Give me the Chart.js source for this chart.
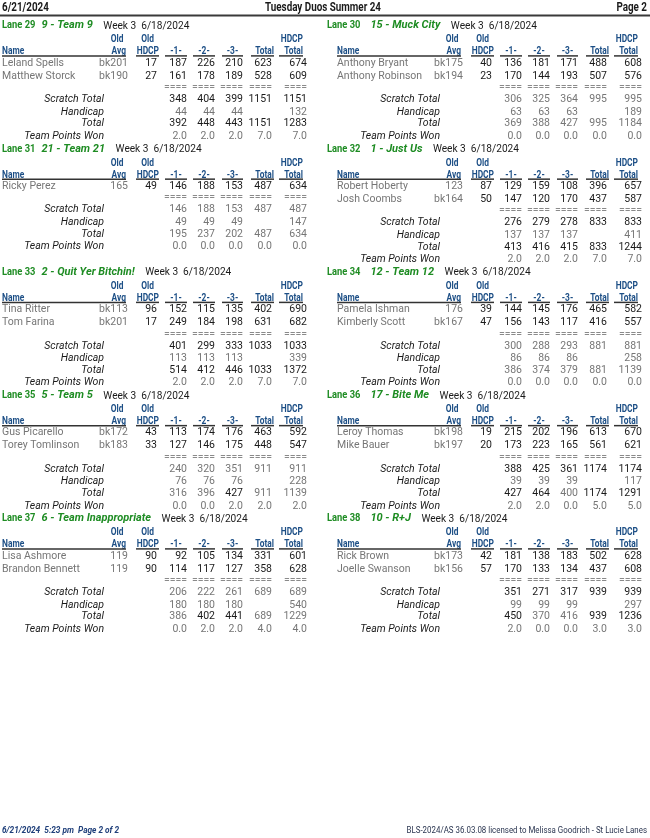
<!DOCTYPE html>
<html><head><meta charset="utf-8">
<script src="https://cdn.jsdelivr.net/npm/chart.js@4.4.1/dist/chart.umd.min.js"></script>
<style>html,body{margin:0;padding:0;background:#fff;}#wrap{width:650px;height:838px;}</style>
</head><body><div id="wrap"><canvas id="c" width="650" height="838"></canvas></div>
<script>
// ---------- data ----------
const reportDate = '6/21/2024';
const reportTitle = 'Tuesday Duos Summer 24';
const pageLabel = 'Page 2';
const weekLabel = 'Week 3';
const bowlDate = '6/18/2024';
const footerLeft = '6/21/2024  5:23 pm  Page 2 of 2';
const footerRight = 'BLS-2024/AS 36.03.08 licensed to Melissa Goodrich - St Lucie Lanes';
const laneNumbers = [29, 30, 31, 32, 33, 34, 35, 36, 37, 38];
const teamNames = ['9 - Team 9', '15 - Muck City', '21 - Team 21', '1 - Just Us', '2 - Quit Yer Bitchin!',
  '12 - Team 12', '5 - Team 5', '17 - Bite Me', '6 - Team Inappropriate', '10 - R+J'];
const playerNames = [['Leland Spells', 'Matthew Storck'], ['Anthony Bryant', 'Anthony Robinson'], ['Ricky Perez'],
  ['Robert Hoberty', 'Josh Coombs'], ['Tina Ritter', 'Tom Farina'], ['Pamela Ishman', 'Kimberly Scott'],
  ['Gus Picarello', 'Torey Tomlinson'], ['Leroy Thomas', 'Mike Bauer'], ['Lisa Ashmore', 'Brandon Bennett'],
  ['Rick Brown', 'Joelle Swanson']];
const playerAvgs = [['bk201', 'bk190'], ['bk175', 'bk194'], ['165'], ['123', 'bk164'], ['bk113', 'bk201'],
  ['176', 'bk167'], ['bk172', 'bk183'], ['bk198', 'bk197'], ['119', '119'], ['bk173', 'bk156']];
const playerHdcps = [[17, 27], [40, 23], [49], [87, 50], [96, 17], [39, 47], [43, 33], [19, 20], [90, 90], [42, 57]];
const game1Scores = [[187, 161], [136, 170], [146], [129, 147], [152, 249], [144, 156], [113, 127], [215, 173], [92, 114], [181, 170]];
const game2Scores = [[226, 178], [181, 144], [188], [159, 120], [115, 184], [145, 143], [174, 146], [202, 223], [105, 117], [138, 133]];
const game3Scores = [[210, 189], [171, 193], [153], [108, 170], [135, 198], [176, 117], [176, 175], [196, 165], [134, 127], [183, 134]];
const teamPointsWon = [[2, 2, 2, 7], [0, 0, 0, 0], [0, 0, 0, 0], [2, 2, 2, 7], [2, 2, 2, 7],
  [0, 0, 0, 0], [0, 0, 2, 2], [2, 2, 0, 5], [0, 2, 2, 4], [2, 0, 0, 3]];
const headerTop = ['Old', 'Old', '', '', '', '', 'HDCP'];
const headerBottom = ['Avg', 'HDCP', '-1-', '-2-', '-3-', 'Total', 'Total'];
const rowLabels = ['Scratch Total', 'Handicap', 'Total', 'Team Points Won'];

// ---------- layout ----------
const LAY = {
  titleX: [2, 327], blockX: [0, 335], labelRight: 104,
  rowTop0: 28.3, rowPitch: 123.25,
  nameX: 2, avgR: 128, hdcpR: 157, valR: [187, 215, 243, 272, 307],
  headCenter: [117, 147.5, 176, 204, 232.5, 263.5, 291.5],
  headRight: [126, 159, null, null, null, 274, 303],
  rules: [[2, 126], [136, 159], [165, 187], [193, 215], [222, 243], [251, 274], [279, 303]],
  laneGap: [6, 10], teamGap: 10.5
};
const COL = { green: '#1e8c23', blue: '#1d4f86', grey: '#767676', dark: '#1a1a1a', sep: '#8a8a8a', navy: '#1f3f7a' };

function sum(a) { return a.reduce((s, v) => s + v, 0); }

const sheetPlugin = {
  id: 'sheet',
  afterDraw(chart) {
    const ctx = chart.ctx, xs = chart.scales.x, ys = chart.scales.y;
    const X = v => xs.getPixelForValue(v), Y = v => ys.getPixelForValue(v);
    function txt(s, x, y, font, color, align, hs, base) {
      hs = hs || 1;
      ctx.save(); ctx.font = font; ctx.fillStyle = color; ctx.textBaseline = base || 'alphabetic'; ctx.textAlign = align || 'left';
      ctx.translate(X(x), Y(y)); ctx.scale(hs, 1); ctx.fillText(s, 0, 0); ctx.restore();
    }
    function width(s, font, hs) { ctx.save(); ctx.font = font; const w = ctx.measureText(s).width * (hs || 1); ctx.restore(); return w; }
    function rule(x1, x2, y, w, c) {
      ctx.save(); ctx.strokeStyle = c; ctx.lineWidth = w; ctx.beginPath();
      ctx.moveTo(X(x1), Y(y)); ctx.lineTo(X(x2), Y(y)); ctx.stroke(); ctx.restore();
    }
    const fData = '10.5px Roboto', fHead = 'bold 10.5px Roboto', fLabel = 'italic 10.5px Roboto';
    const fLane = 'bold 11px Roboto', fTeam = 'italic bold 11px Roboto', fWeek = '11px Roboto';

    // page header
    txt(reportDate, 2, 7.5, 'bold 12px Roboto', COL.dark, 'left', 0.82, 'middle');
    txt(reportTitle, 323, 7.5, 'bold 12px Roboto', COL.dark, 'center', 0.82, 'middle');
    txt(pageLabel, 647, 7.5, 'bold 12px Roboto', COL.dark, 'right', 0.82, 'middle');
    rule(0, 650, 15.5, 2, '#3a3a3a');

    // footer
    txt(footerLeft, 2, 831, 'italic bold 9px Roboto', COL.navy, 'left', 0.92, 'middle');
    txt(footerRight, 647, 831, '8.6px Roboto', '#2a3550', 'right', 0.92, 'middle');

    laneNumbers.forEach((lane, t) => {
      const side = t % 2, opp = t ^ 1;
      const bx = LAY.blockX[side];
      const B = LAY.rowTop0 + Math.floor(t / 2) * LAY.rowPitch;
      // title
      let x = LAY.titleX[side];
      const laneTxt = 'Lane ' + lane;
      txt(laneTxt, x, B, fLane, COL.green, 'left', 0.85);
      x += width(laneTxt, fLane, 0.85) + LAY.laneGap[side];
      txt(teamNames[t], x, B, fTeam, COL.green, 'left', 1);
      x += width(teamNames[t], fTeam, 1) + LAY.teamGap;
      txt(weekLabel + '  ' + bowlDate, x, B + 0.5, fWeek, COL.dark, 'left', 0.92);

      // column headers
      txt('Name', bx + LAY.nameX, B + 26, fHead, COL.blue, 'left', 0.8);
      headerBottom.forEach((h, i) => {
        const r = LAY.headRight[i];
        if (r !== null) txt(h, bx + r, B + 26, fHead, COL.blue, 'right', 0.8);
        else txt(h, bx + LAY.headCenter[i], B + 26, fHead, COL.blue, 'center', 0.8);
        if (headerTop[i]) {
          if (i === 6) txt(headerTop[i], bx + r, B + 14, fHead, COL.blue, 'right', 0.8);
          else txt(headerTop[i], bx + LAY.headCenter[i], B + 14, fHead, COL.blue, 'center', 0.8);
        }
      });
      LAY.rules.forEach(([a, b]) => rule(bx + a, bx + b, B + 27.6, 1.5, '#333'));

      // players
      const n = playerNames[t].length;
      let P = B;
      for (let p = 0; p < n; p++) {
        P = B + 37.4 + 12.9 * p;
        const g = [game1Scores[t][p], game2Scores[t][p], game3Scores[t][p]];
        const ser = sum(g), h = playerHdcps[t][p];
        txt(playerNames[t][p], bx + LAY.nameX, P, fData, COL.grey, 'left');
        txt(playerAvgs[t][p], bx + LAY.avgR, P, fData, COL.grey, 'right');
        txt(String(h), bx + LAY.hdcpR, P, fData, COL.dark, 'right');
        [g[0], g[1], g[2], ser, ser + 3 * h].forEach((v, i) => txt(String(v), bx + LAY.valR[i], P, fData, COL.dark, 'right'));
      }
      // separators
      LAY.valR.forEach(r => txt('====', bx + r, P + 11.5, fData, COL.sep, 'right'));

      // team totals
      function teamVals(k) {
        const gs = [game1Scores[k], game2Scores[k], game3Scores[k]].map(sum);
        const hc = sum(playerHdcps[k]);
        const scr = [gs[0], gs[1], gs[2], sum(gs), sum(gs)];
        const tot = [gs[0] + hc, gs[1] + hc, gs[2] + hc, sum(gs), sum(gs) + 3 * hc];
        return { scr, hc, tot };
      }
      const me = teamVals(t), them = teamVals(opp);
      const ys4 = [P + 23.5, P + 36, P + 47.8, P + 60.2];
      rowLabels.forEach((lb, i) => txt(lb, bx + LAY.labelRight + (side ? 1 : 0), ys4[i], fLabel, COL.dark, 'right'));
      me.scr.forEach((v, i) => txt(String(v), bx + LAY.valR[i], ys4[0], fData, v > them.scr[i] ? COL.dark : COL.grey, 'right'));
      [me.hc, me.hc, me.hc, null, me.hc * 3].forEach((v, i) => { if (v !== null) txt(String(v), bx + LAY.valR[i], ys4[1], fData, COL.grey, 'right'); });
      me.tot.forEach((v, i) => txt(String(v), bx + LAY.valR[i], ys4[2], fData, v > them.tot[i] ? COL.dark : COL.grey, 'right'));
      const pts = teamPointsWon[t];
      [pts[0], pts[1], pts[2], pts[3], pts[3]].forEach((v, i) => txt(v.toFixed(1), bx + LAY.valR[i], ys4[3], fData, COL.grey, 'right'));
    });
  }
};

new Chart(document.getElementById('c').getContext('2d'), {
  type: 'scatter',
  data: { datasets: [] },
  options: {
    responsive: false, animation: false, devicePixelRatio: 1,
    layout: { padding: 0 },
    scales: {
      x: { type: 'linear', min: 0, max: 650, display: false },
      y: { type: 'linear', min: 0, max: 838, reverse: true, display: false }
    },
    plugins: { legend: { display: false }, tooltip: { enabled: false } }
  },
  plugins: [sheetPlugin]
});
</script></body></html>
